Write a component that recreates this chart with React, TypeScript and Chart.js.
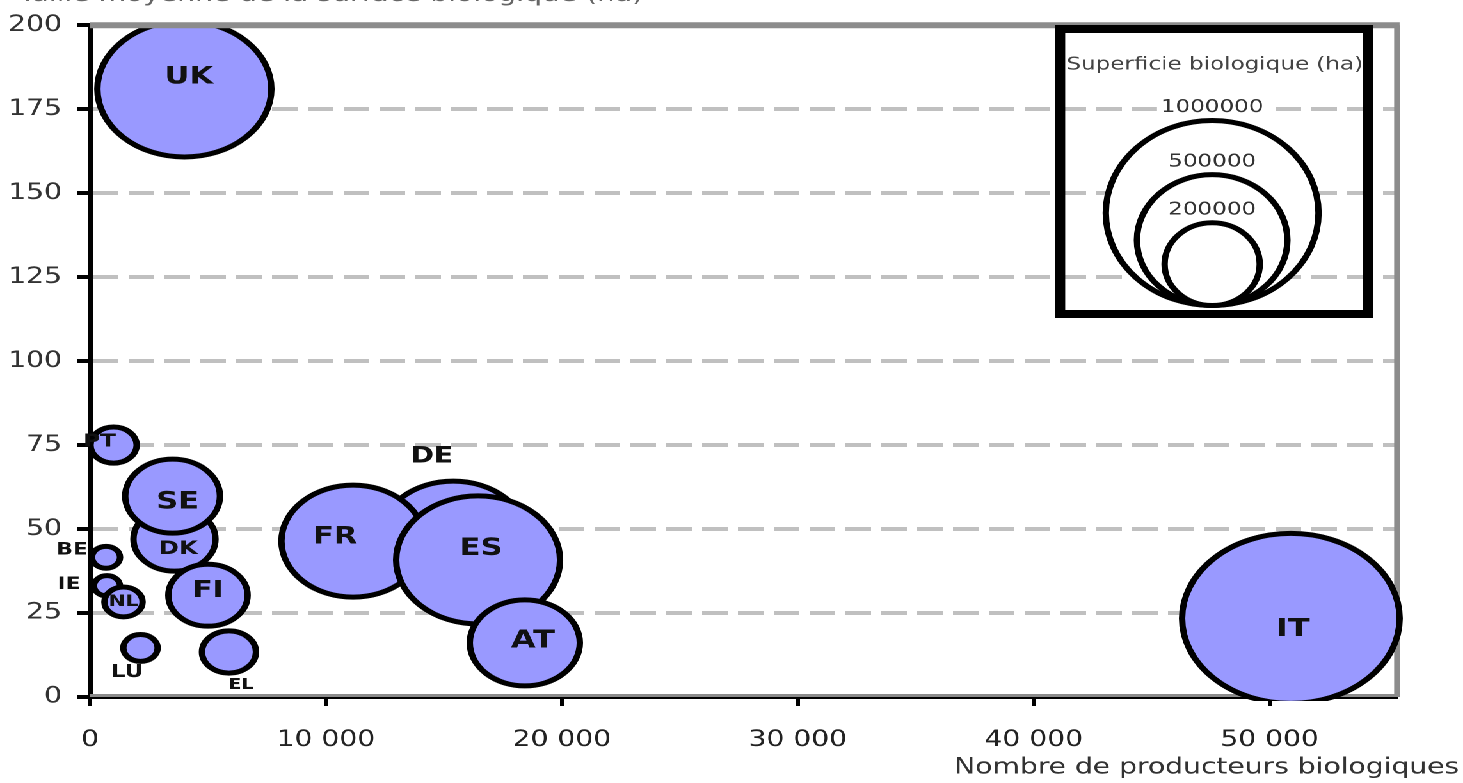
import React, { useEffect, useRef } from "react";
import { Chart, registerables } from "chart.js";

Chart.register(...registerables);

// ---------- data ----------
const countries = ["UK", "PT", "BE", "IE", "NL", "DK", "SE", "FI", "LU", "EL", "DE", "FR", "ES", "AT", "IT"];
const producers = [4000, 1000, 680, 720, 1420, 3580, 3500, 5000, 2140, 5890, 15400, 11150, 16450, 18430, 50900];
const avgSizeHa = [181, 75, 41.6, 33.1, 28.3, 47, 59.8, 30.3, 14.6, 13.4, 47, 46.4, 40.8, 16.1, 23.4];
const organicAreaHa = [540000, 38000, 14000, 12000, 26000, 120000, 160000, 112000, 21000, 52000, 393000, 366000, 479000, 216000, 844000];

const xTicks = [0, 10000, 20000, 30000, 40000, 50000];
const yTicks = [0, 25, 50, 75, 100, 125, 150, 175, 200];
const X_MAX = 55400;
const Y_MAX = 200;

const legendAreas = [1000000, 500000, 200000];
const legendLabels = ["1000000", "500000", "200000"];

const yAxisTitle = "Taille moyenne de la surface biologique (ha)";
const xAxisTitle = "Nombre de producteurs biologiques";
const legendTitle = "Superficie biologique (ha)";

// ---------- layout / style ----------
const PAGE_W = 1463;
const PAGE_H = 783;
const STRETCH = 1.28;
const INNER_W = PAGE_W / STRETCH;
const FONT = '"DejaVu Sans", "Liberation Sans", sans-serif';
const PX_PER_SQRT_HA = 0.0925;
const radiusFor = (area: number) => PX_PER_SQRT_HA * Math.sqrt(area);
const fmtThousands = (v: number) => String(v).replace(/\B(?=(\d{3})+(?!\d))/g, " ");

const labelStyle: Record<string, { dx: number; dy: number; size: number }> = {
  UK: { dx: 3.5, dy: -12, size: 24 },
  PT: { dx: -11, dy: -3, size: 18 },
  BE: { dx: -26.5, dy: -7, size: 17 },
  IE: { dx: -29.7, dy: -1, size: 17 },
  NL: { dx: 0, dy: 0, size: 16 },
  DK: { dx: 3, dy: 10, size: 19 },
  SE: { dx: 4, dy: 6, size: 24 },
  FI: { dx: 0, dy: -4, size: 23 },
  LU: { dx: -10.5, dy: 24.5, size: 18 },
  EL: { dx: 9.4, dy: 33, size: 15 },
  DE: { dx: -16.8, dy: -82.5, size: 22 },
  FR: { dx: -14, dy: -4, size: 24 },
  ES: { dx: 2.3, dy: -11, size: 24 },
  AT: { dx: 6.3, dy: -2, size: 25 },
  IT: { dx: 1.6, dy: 11, size: 25 },
};

const framePlugin = {
  id: "frame",
  beforeDatasetsDraw(chart: any) {
    const { ctx, chartArea: a } = chart;
    ctx.save();
    ctx.strokeStyle = "#8c8c8c";
    ctx.lineWidth = 4.5;
    ctx.beginPath();
    ctx.moveTo(a.right, a.top);
    ctx.lineTo(a.right, a.bottom);
    ctx.stroke();
    ctx.lineWidth = 3;
    ctx.beginPath();
    ctx.moveTo(a.left, a.bottom - 1.5);
    ctx.lineTo(a.right, a.bottom - 1.5);
    ctx.stroke();
    ctx.restore();
  },
  afterDatasetsDraw(chart: any) {
    const { ctx, chartArea: a } = chart;
    ctx.save();
    ctx.strokeStyle = "#8c8c8c";
    ctx.lineWidth = 6;
    ctx.beginPath();
    ctx.moveTo(a.left, a.top);
    ctx.lineTo(a.right + 2, a.top);
    ctx.stroke();
    // bubble labels
    const meta = chart.getDatasetMeta(0);
    ctx.textAlign = "center";
    ctx.textBaseline = "middle";
    ctx.fillStyle = "#111";
    meta.data.forEach((el: any, i: number) => {
      const name = countries[i];
      const st = labelStyle[name];
      ctx.font = `bold ${st.size}px ${FONT}`;
      ctx.fillText(name, el.x + st.dx, el.y + st.dy);
    });
    ctx.restore();
  },
  afterDraw(chart: any) {
    const { ctx } = chart;
    ctx.save();
    // y axis title (cut at top)
    ctx.font = `22px ${FONT}`;
    ctx.fillStyle = "#666";
    ctx.textAlign = "left";
    ctx.textBaseline = "alphabetic";
    ctx.fillText(yAxisTitle, 14.8, 1);
    // x axis title
    ctx.fillStyle = "#333";
    ctx.textAlign = "right";
    ctx.textBaseline = "middle";
    ctx.fillText(xAxisTitle, 1140, 768);

    // legend box
    ctx.strokeStyle = "#000";
    ctx.lineWidth = 8;
    ctx.strokeRect(828.2, 29, 240.5, 285);
    ctx.font = `18px ${FONT}`;
    ctx.fillStyle = "#444";
    ctx.textAlign = "center";
    ctx.fillText(legendTitle, 949, 65);

    const cx = 947;
    const bottom = 305.5;
    const ratio = 1.15 / STRETCH;
    ctx.lineWidth = 5;
    legendAreas.forEach((area) => {
      const r = radiusFor(area);
      ctx.beginPath();
      ctx.ellipse(cx, bottom - r, r * ratio, r, 0, 0, Math.PI * 2);
      ctx.fillStyle = "#fff";
      ctx.fill();
      ctx.strokeStyle = "#000";
      ctx.stroke();
    });
    ctx.font = `18px ${FONT}`;
    ctx.textBaseline = "bottom";
    legendAreas.forEach((area, i) => {
      const r = radiusFor(area);
      const top = bottom - 2 * r - 3;
      const w = ctx.measureText(legendLabels[i]).width;
      ctx.fillStyle = "#fff";
      ctx.fillRect(cx - w / 2 - 3, top - 20, w + 6, 19);
      ctx.fillStyle = "#333";
      ctx.fillText(legendLabels[i], cx, top - 1);
    });
    ctx.restore();
  },
};

export default function App() {
  const ref = useRef<HTMLCanvasElement>(null);

  useEffect(() => {
    const canvas = ref.current;
    if (!canvas) return;
    const chart = new Chart(canvas, {
      type: "bubble",
      data: {
        datasets: [
          {
            label: "Pays",
            data: countries.map((c, i) => ({ x: producers[i], y: avgSizeHa[i], r: radiusFor(organicAreaHa[i]) })),
            backgroundColor: "#9999ff",
            borderColor: "#000",
            borderWidth: 5,
            clip: { left: 0, top: 0, right: 8, bottom: 4 } as any,
          },
        ],
      },
      options: {
        animation: false,
        responsive: true,
        maintainAspectRatio: false,
        devicePixelRatio: 2,
        events: [],
        layout: { autoPadding: false, padding: { left: 0, top: 21, right: INNER_W - 1397 / STRETCH, bottom: 0 } },
        plugins: { legend: { display: false }, tooltip: { enabled: false }, title: { display: false } },
        scales: {
          x: {
            type: "linear",
            min: 0,
            max: X_MAX,
            afterBuildTicks: (axis: any) => {
              axis.ticks = xTicks.map((value) => ({ value }));
            },
            afterFit: (axis: any) => {
              axis.height = PAGE_H - 697;
            },
            grid: { drawOnChartArea: false, drawTicks: true, tickLength: 9, tickWidth: 3, tickColor: "#000", color: "#000" },
            border: { display: true, color: "#000", width: 4 },
            ticks: {
              autoSkip: false,
              maxRotation: 0,
              padding: 21,
              color: "#222",
              font: { family: FONT, size: 22 },
              callback: (v: any) => fmtThousands(Number(v)),
            },
          },
          y: {
            type: "linear",
            min: 0,
            max: Y_MAX,
            afterBuildTicks: (axis: any) => {
              axis.ticks = yTicks.map((value) => ({ value }));
            },
            afterFit: (axis: any) => {
              axis.width = 90 / STRETCH;
            },
            grid: {
              drawOnChartArea: true,
              drawTicks: true,
              color: (c: any) => (c.tick && (c.tick.value === 0 || c.tick.value === Y_MAX) ? "rgba(0,0,0,0)" : "#c0c0c0"),
              lineWidth: 4,
              tickLength: 10,
              tickWidth: 4,
              tickColor: "#000",
              tickBorderDash: [],
            },
            border: { display: true, color: "#000", width: 4, dash: [20, 8] },
            ticks: { padding: 12, color: "#333", font: { family: FONT, size: 22 } },
          },
        },
      },
      plugins: [framePlugin],
    } as any);
    return () => chart.destroy();
  }, []);

  return (
    <div
      style={{
        position: "fixed",
        left: 0,
        top: 0,
        width: INNER_W,
        height: PAGE_H,
        transform: `scaleX(${STRETCH})`,
        transformOrigin: "0 0",
        background: "#fff",
      }}
    >
      <canvas ref={ref} style={{ display: "block" }} />
    </div>
  );
}
